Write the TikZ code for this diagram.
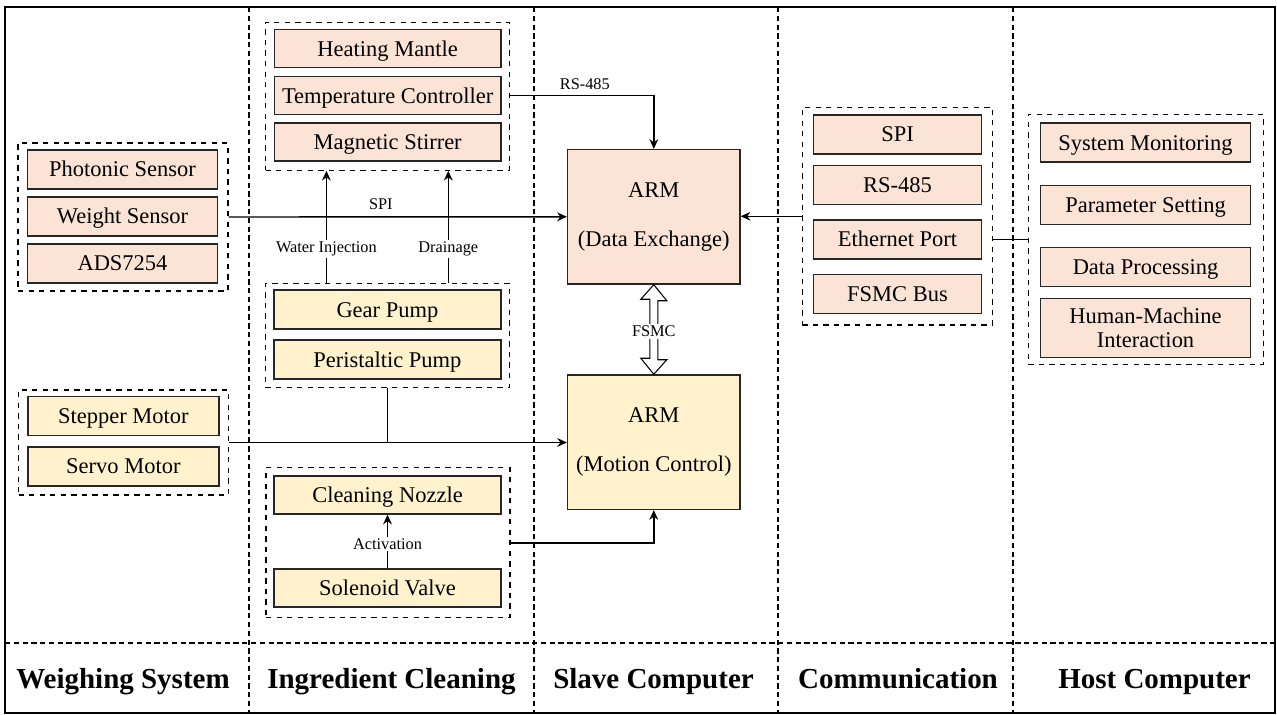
\documentclass[tikz,border=0pt]{standalone}
\usepackage{fontspec}
\setmainfont{Liberation Serif}
\usetikzlibrary{arrows.meta,calc}
\definecolor{peachfill}{HTML}{FBE4D5}
\definecolor{goldfill}{HTML}{FFF2CC}

\begin{document}
\begin{tikzpicture}[x=0.02cm, y=-0.02cm,
  itembox/.style={draw=black!85, line width=0.8pt, inner sep=1pt, minimum height=0.78cm, font=\fontsize{12.8}{15}\selectfont},
  peachbox/.style={itembox, fill=peachfill, text height=8.4pt, text depth=0pt},
  goldbox/.style={itembox, fill=goldfill, text height=8.4pt, text depth=0pt},
  grpbox/.style={draw, dashed, line width=0.75pt, inner sep=0pt},
  armbox/.style={itembox, align=center, minimum width=3.45cm, minimum height=2.69cm, font=\fontsize{12.8}{28}\selectfont},
  arr/.style={line width=0.8pt, -{Stealth[length=5.5pt,width=5pt]}},
  link/.style={line width=0.8pt},
  lbl/.style={fill=white, inner sep=1pt, font=\fontsize{9.3}{11}\selectfont},
  divline/.style={line width=0.6pt, dash pattern=on 3pt off 2pt},
  colname/.style={anchor=base, font=\fontsize{16.5}{20}\selectfont\bfseries}]
\useasboundingbox (0,0) rectangle (1277,715);
\draw[line width=0.8pt] (5,7) rectangle (1275,713);
\draw[divline] (249,7) -- (249,713);
\draw[divline] (534,7) -- (534,713);
\draw[divline] (778,7) -- (778,713);
\draw[divline] (1013,7) -- (1013,713);
\draw[divline] (5,643) -- (1275,643);
\node[colname] (colweigh) at (123,688) {Weighing System};
\node[colname] (colclean) at (391.5,688) {Ingredient Cleaning};
\node[colname] (colslave) at (653.5,688) {Slave Computer};
\node[colname] (colcomm) at (898,688) {Communication};
\node[colname] (colhost) at (1154.5,688) {Host Computer};

\node[grpbox, minimum width=4.2cm, minimum height=2.96cm] (wg1) at (123,217) {};
\node[peachbox, minimum width=3.8cm] (photonic) at (122.5,169.5) {Photonic Sensor};
\node[peachbox, minimum width=3.8cm] (weight) at (122.5,216.5) {Weight Sensor};
\node[peachbox, minimum width=3.8cm] (ads) at (122.5,263.5) {ADS7254};
\node[grpbox, minimum width=4.2cm, minimum height=2.1cm] (wg2) at (123.5,442.5) {};
\node[goldbox, minimum width=3.82cm] (stepper) at (123.4,416) {Stepper Motor};
\node[goldbox, minimum width=3.82cm] (servo) at (123.4,466.5) {Servo Motor};

\node[grpbox, minimum width=4.88cm, minimum height=2.96cm] (ig1) at (387.5,96.2) {};
\node[peachbox, minimum width=4.54cm, minimum height=0.76cm] (mantle) at (387.7,48.8) {Heating Mantle};
\node[peachbox, minimum width=4.54cm, minimum height=0.76cm] (tempctl) at (387.7,95.8) {Temperature Controller};
\node[peachbox, minimum width=4.54cm, minimum height=0.76cm] (stirrer) at (387.7,142.2) {Magnetic Stirrer};
\node[grpbox, minimum width=4.88cm, minimum height=2.08cm] (ig2) at (387.5,335.3) {};
\node[goldbox, minimum width=4.54cm] (gear) at (387.4,309.7) {Gear Pump};
\node[goldbox, minimum width=4.54cm] (peristaltic) at (387.4,359.7) {Peristaltic Pump};
\node[grpbox, minimum width=4.88cm, minimum height=3.0cm] (ig3) at (388,542.8) {};
\node[goldbox, minimum width=4.54cm, minimum height=0.76cm] (nozzle) at (387.5,495) {Cleaning Nozzle};
\node[goldbox, minimum width=4.54cm, minimum height=0.76cm] (solenoid) at (387.5,588) {Solenoid Valve};

\node[armbox, fill=peachfill] (armdata) at (653.8,216.8) {ARM\\(Data Exchange)};
\node[armbox, fill=goldfill] (armmotion) at (653.8,442.2) {ARM\\(Motion Control)};

\node[grpbox, minimum width=3.81cm, minimum height=4.35cm] (cg) at (897.5,216.3) {};
\node[peachbox, minimum width=3.37cm] (spi) at (897.5,134.5) {SPI};
\node[peachbox, minimum width=3.37cm] (rs) at (897.5,185) {RS-485};
\node[peachbox, minimum width=3.37cm] (eth) at (897.5,239.5) {Ethernet Port};
\node[peachbox, minimum width=3.37cm] (fsmcbus) at (897.5,294) {FSMC Bus};

\node[grpbox, minimum width=4.7cm, minimum height=5.0cm] (hg) at (1145.8,239.2) {};
\node[peachbox, minimum width=4.21cm] (monitor) at (1145.5,142.7) {System Monitoring};
\node[peachbox, minimum width=4.21cm] (param) at (1145.5,205) {Parameter Setting};
\node[peachbox, minimum width=4.21cm] (dataproc) at (1145.5,267.2) {Data Processing};
\node[itembox, fill=peachfill, minimum width=4.21cm, minimum height=1.18cm, align=center, font=\fontsize{12.8}{13.5}\selectfont] (hmi) at (1145.5,327.8) {Human-Machine\\Interaction};

\coordinate (wi) at (326.4,0);
\coordinate (dr) at (448.3,0);
\draw[arr] (wg1.east) -- node[pos=0.45, above=3pt, lbl, fill=none] {SPI} (armdata.west);
\draw[arr] (ig2.north -| wi) -- node[pos=0.3, lbl] {Water Injection} (ig1.south -| wi);
\draw[arr] (ig2.north -| dr) -- node[pos=0.3, lbl] {Drainage} (ig1.south -| dr);
\draw[arr] (tempctl -| ig1.east) -| node[pos=0.26, above=2pt, lbl, fill=none] {RS-485} (armdata.north);
\draw[line width=0.6pt, fill=white] (armdata.south) -- ++(13,16) -- ++(-9,0) -- ++(0,59) -- ++(9,0) -- (armmotion.north) -- ++(-13,-16) -- ++(9,0) -- ++(0,-59) -- ++(-9,0) -- cycle;
\node[lbl] (fsmclbl) at ($(armdata.south)!0.52!(armmotion.north)$) {FSMC};
\draw[arr] (cg.west) -- (cg.west -| armdata.east);
\draw[link] (eth -| cg.east) -- (eth -| hg.west);
\draw[arr] (wg2.east) -- (wg2.east -| armmotion.west);
\draw[link] (ig2.south) -- (ig2.south |- wg2.east);
\draw[arr] (ig3.east) -| (armmotion.south);
\draw[arr] (solenoid) -- node[pos=0.45, lbl] {Activation} (nozzle);
\end{tikzpicture}
\end{document}
